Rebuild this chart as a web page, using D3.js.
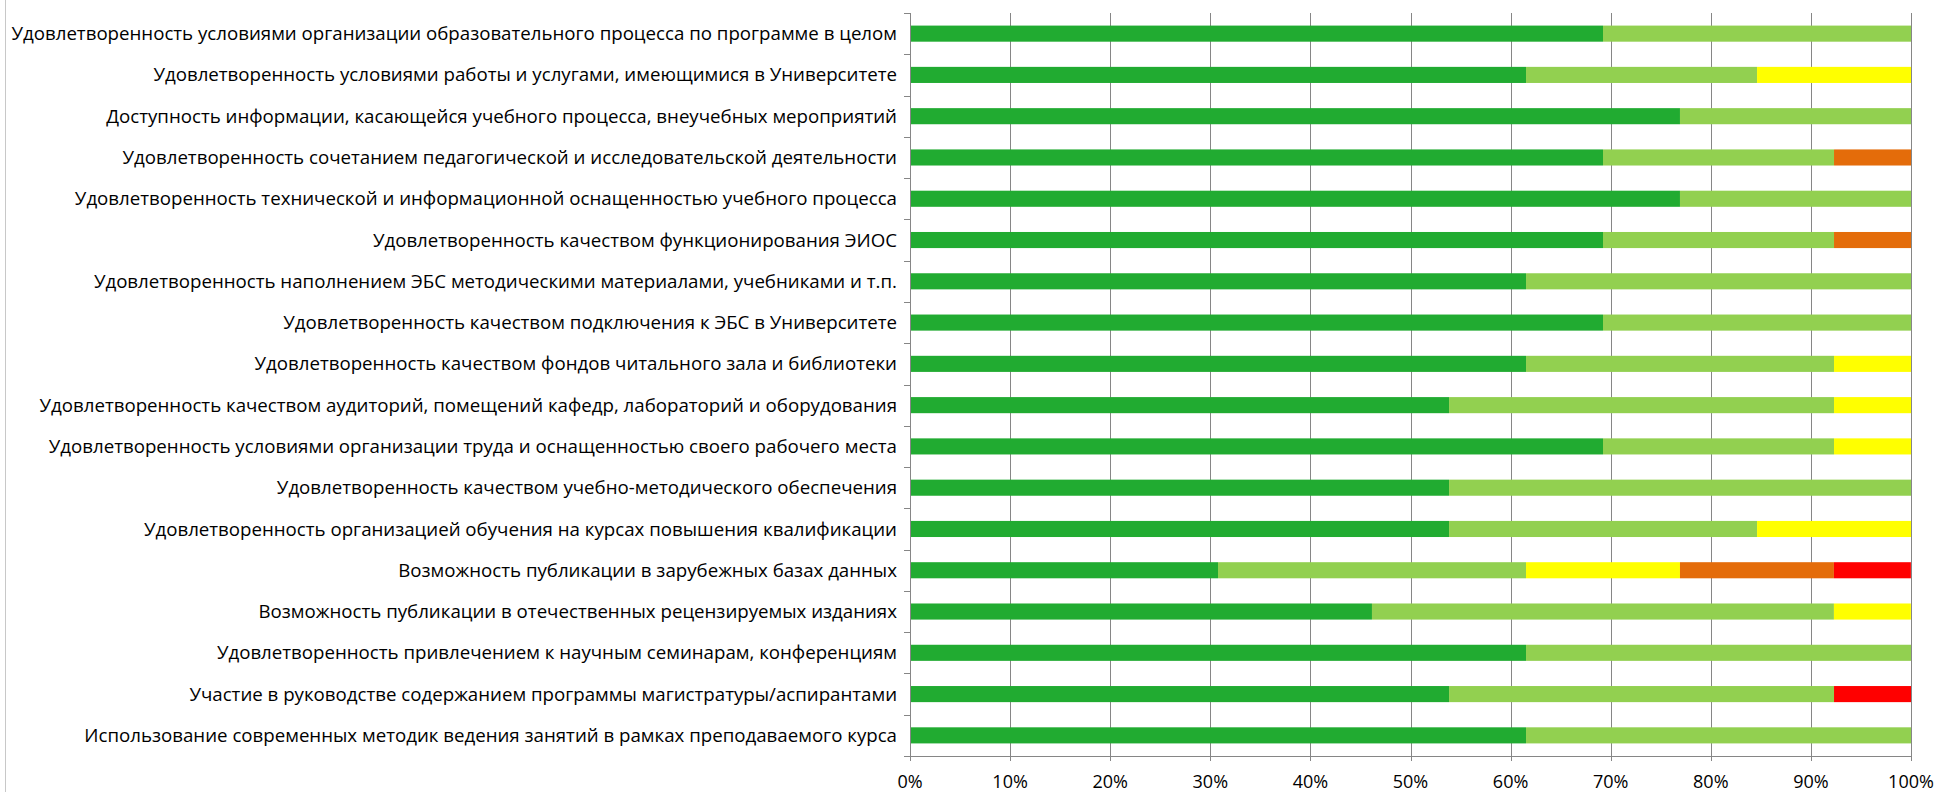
<!DOCTYPE html>
<html>
<head>
<meta charset="utf-8">
<script src="https://cdn.jsdelivr.net/npm/d3@7"></script>
<style>
  html, body { margin: 0; padding: 0; background: #fff; }
  svg { display: block; }
</style>
</head>
<body>
<div id="chart"></div>
<script>
// categories, top to bottom
const categories = [
    "Удовлетворенность условиями организации образовательного процесса по программе в целом",
    "Удовлетворенность условиями работы и услугами, имеющимися в Университете",
    "Доступность информации, касающейся учебного процесса, внеучебных мероприятий",
    "Удовлетворенность сочетанием педагогической и исследовательской деятельности",
    "Удовлетворенность технической и информационной оснащенностью учебного процесса",
    "Удовлетворенность качеством функционирования ЭИОС",
    "Удовлетворенность наполнением ЭБС методическими материалами, учебниками и т.п.",
    "Удовлетворенность качеством подключения к ЭБС в Университете",
    "Удовлетворенность качеством фондов читального зала и библиотеки",
    "Удовлетворенность качеством аудиторий, помещений кафедр, лабораторий и оборудования",
    "Удовлетворенность условиями организации труда и оснащенностью своего рабочего места",
    "Удовлетворенность качеством учебно-методического обеспечения",
    "Удовлетворенность организацией обучения на курсах повышения квалификации",
    "Возможность публикации в зарубежных базах данных",
    "Возможность публикации в отечественных рецензируемых изданиях",
    "Удовлетворенность привлечением к научным семинарам, конференциям",
    "Участие в руководстве содержанием программы магистратуры/аспирантами",
    "Использование современных методик ведения занятий в рамках преподаваемого курса"
];

// shares in percent, one array per series
const s1 = [69.23, 61.54, 76.92, 69.23, 76.92, 69.23, 61.54, 69.23, 61.54, 53.85, 69.23, 53.85, 53.85, 30.77, 46.15, 61.54, 53.85, 61.54];
const s2 = [30.77, 23.08, 23.08, 23.08, 23.08, 23.08, 38.46, 30.77, 30.77, 38.46, 23.08, 46.15, 30.77, 30.77, 46.15, 38.46, 38.46, 38.46];
const s3 = [0, 15.38, 0, 0, 0, 0, 0, 0, 7.69, 7.69, 7.69, 0, 15.38, 15.38, 7.69, 0, 0, 0];
const s4 = [0, 0, 0, 7.69, 0, 7.69, 0, 0, 0, 0, 0, 0, 0, 15.38, 0, 0, 0, 0];
const s5 = [0, 0, 0, 0, 0, 0, 0, 0, 0, 0, 0, 0, 0, 7.69, 0, 0, 7.69, 0];

const seriesKeys = ["s1", "s2", "s3", "s4", "s5"];
const seriesColors = ["#21ab31", "#92d050", "#ffff00", "#e46c0a", "#ff0000"];
const xTicks = [0, 10, 20, 30, 40, 50, 60, 70, 80, 90, 100];

const width = 1937;
const height = 792;
const margin = { top: 13, right: 26, bottom: 36, left: 910 };
const innerW = width - margin.left - margin.right;
const innerH = height - margin.top - margin.bottom;
const font = "'Open Sans', 'Noto Sans', sans-serif";

const table = categories.map((c, i) => ({ cat: c, s1: s1[i], s2: s2[i], s3: s3[i], s4: s4[i], s5: s5[i] }));
const stacked = d3.stack().keys(seriesKeys)(table);

const svg = d3.select("#chart").append("svg")
    .attr("width", width)
    .attr("height", height);

// chart frame on the left
svg.append("line")
    .attr("x1", 5.5).attr("x2", 5.5)
    .attr("y1", 0).attr("y2", height)
    .attr("stroke", "#c8c8c8");

const g = svg.append("g")
    .attr("transform", `translate(${margin.left},${margin.top})`);

const x = d3.scaleLinear().domain([0, 100]).range([0, innerW]);
const y = d3.scaleBand()
    .domain(categories)
    .range([0, innerH])
    .paddingInner(0.61)
    .paddingOuter(0.305);

// vertical gridlines
g.append("g")
    .selectAll("line")
    .data(xTicks.slice(1))
    .join("line")
    .attr("x1", d => Math.round(x(d)) + 0.5)
    .attr("x2", d => Math.round(x(d)) + 0.5)
    .attr("y1", 0)
    .attr("y2", innerH)
    .attr("stroke", "#868686");

// bars
g.append("g")
    .selectAll("g")
    .data(stacked)
    .join("g")
    .attr("fill", (d, i) => seriesColors[i])
    .selectAll("rect")
    .data(d => d.filter(p => p[1] - p[0] > 0))
    .join("rect")
    .attr("x", d => x(d[0]))
    .attr("width", d => x(d[1]) - x(d[0]))
    .attr("y", d => y(d.data.cat))
    .attr("height", y.bandwidth());

// left axis with ticks at category boundaries
const step = y.step();
const boundaries = d3.range(categories.length + 1).map(i => i * step);
const left = g.append("g");
left.append("line")
    .attr("x1", 0.5).attr("x2", 0.5)
    .attr("y1", 0).attr("y2", innerH)
    .attr("stroke", "#868686");
left.selectAll(".tk")
    .data(boundaries)
    .join("line")
    .attr("class", "tk")
    .attr("x1", -6).attr("x2", 0.5)
    .attr("y1", d => Math.round(d) + 0.5)
    .attr("y2", d => Math.round(d) + 0.5)
    .attr("stroke", "#868686");

const labels = left.selectAll("text")
    .data(categories)
    .join("text")
    .attr("x", -13)
    .attr("y", d => y(d) + y.bandwidth() / 2)
    .attr("dy", "0.35em")
    .attr("text-anchor", "end")
    .style("font-family", font)
    .style("font-size", "16px")
    .style("fill", "#000")
    .text(d => d);

// fit the longest label to the width it takes in the picture
const widest = d3.max(labels.nodes(), n => n.getComputedTextLength());
const fitSize = 16 * 886 / widest;
labels.style("font-size", fitSize + "px");

// bottom axis
const bottom = g.append("g")
    .attr("transform", `translate(0,${innerH})`);
bottom.append("line")
    .attr("x1", 0).attr("x2", innerW)
    .attr("y1", 0.5).attr("y2", 0.5)
    .attr("stroke", "#868686");
bottom.selectAll("line.tk")
    .data(xTicks)
    .join("line")
    .attr("class", "tk")
    .attr("x1", d => Math.round(x(d)) + 0.5)
    .attr("x2", d => Math.round(x(d)) + 0.5)
    .attr("y1", 0)
    .attr("y2", 5)
    .attr("stroke", "#868686");
bottom.selectAll("text")
    .data(xTicks)
    .join("text")
    .attr("x", d => x(d))
    .attr("y", 26)
    .attr("dy", "0.35em")
    .attr("text-anchor", "middle")
    .style("font-family", font)
    .style("font-size", "18px")
    .style("fill", "#000")
    .text(d => d + "%");
</script>
</body>
</html>
